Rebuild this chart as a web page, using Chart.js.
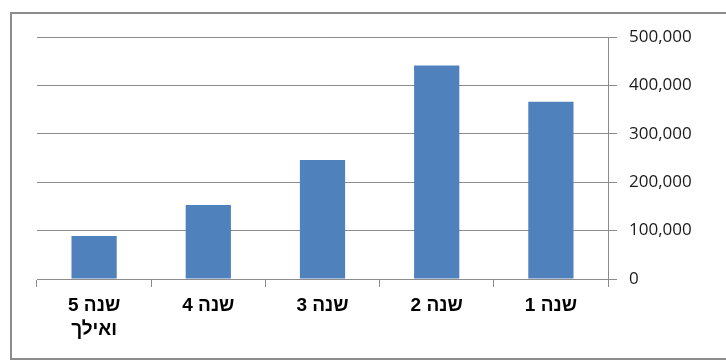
<!DOCTYPE html>
<html>
<head>
<meta charset="utf-8">
<script src="https://cdn.jsdelivr.net/npm/chart.js@4/dist/chart.umd.min.js"></script>
<style>
    html, body { margin: 0; padding: 0; background: #fff; }
    #wrap { position: relative; width: 726px; height: 363px; overflow: hidden; }
    #frame {
        position: absolute; left: 10px; top: 12px; width: 740px; height: 348px;
        border: 2px solid #8c8c8c; box-sizing: border-box;
    }
    canvas { position: absolute; left: 0; top: 0; direction: rtl; }
</style>
</head>
<body>
<div id="wrap">
    <div id="frame"></div>
    <canvas id="chart" width="726" height="363"></canvas>
</div>
<script>
// Data (RTL chart: year 1 sits on the right)
const categories = [['שנה 1'], ['שנה 2'], ['שנה 3'], ['שנה 4'], ['שנה 5', 'ואילך']];
const values = [366000, 441000, 246000, 153000, 89000];
const yTicks = [0, 100000, 200000, 300000, 400000, 500000];

const gridColor = '#8c8c8c';

const ctx = document.getElementById('chart').getContext('2d');
new Chart(ctx, {
    type: 'bar',
    data: {
        labels: categories,
        datasets: [{
            data: values,
            backgroundColor: '#4f81bd',
            borderWidth: 0,
            barPercentage: 0.66,
            categoryPercentage: 0.6
        }]
    },
    options: {
        responsive: false,
        animation: false,
        devicePixelRatio: 1,
        layout: { padding: { left: 37, top: 37, right: 0, bottom: 0 } },
        plugins: { legend: { display: false }, tooltip: { enabled: false } },
        scales: {
            x: {
                reverse: true,
                afterFit: function(scale) { scale.height = 84; },
                grid: {
                    display: true,
                    drawOnChartArea: false,
                    offset: true,
                    color: gridColor,
                    tickLength: 8
                },
                border: { color: gridColor, width: 1 },
                ticks: {
                    color: '#000',
                    padding: 6,
                    maxRotation: 0,
                    font: { family: 'Liberation Sans, Arial, sans-serif', size: 19, weight: 'bold', lineHeight: 1.3 }
                }
            },
            y: {
                position: 'right',
                min: 0,
                max: 500000,
                afterFit: function(scale) { scale.width = 118; },
                afterBuildTicks: function(scale) {
                    scale.ticks = yTicks.map(v => ({ value: v }));
                },
                grid: {
                    color: gridColor,
                    tickLength: 9
                },
                border: { color: gridColor, width: 1 },
                ticks: {
                    color: '#1a1a1a',
                    padding: 12,
                    font: { family: 'Open Sans, Liberation Sans, sans-serif', size: 17 },
                    callback: function(value) {
                        return value.toLocaleString('en-US');
                    }
                }
            }
        }
    }
});
</script>
</body>
</html>
